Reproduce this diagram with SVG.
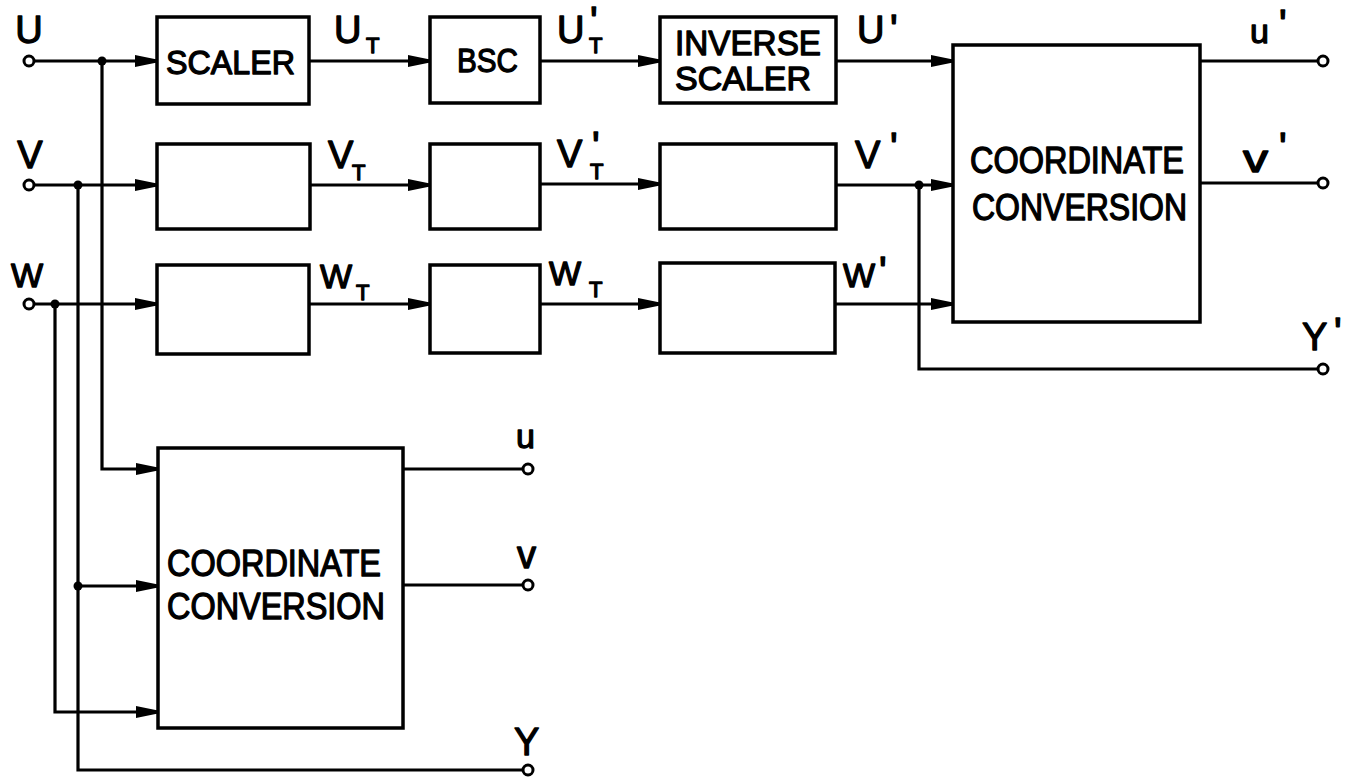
<svg xmlns="http://www.w3.org/2000/svg" width="1352" height="781" viewBox="0 0 1352 781">
<style>
text{font-family:"Liberation Sans",Arial,sans-serif;fill:#000;stroke:#000;stroke-width:1.3;stroke-linejoin:round}
.box{fill:#fff;stroke:#000;stroke-width:3.5}
.ln{fill:none;stroke:#000;stroke-width:3.2}
.arr{marker-end:url(#ah)}
.term{fill:#fff;stroke:#000;stroke-width:3}
.dot{fill:#000}
.big{font-size:38px}
.w{font-size:34px}
.sub{font-size:22px}
.pr{font-size:40px}
.bt{font-size:34px}
.cc{font-size:36px}
</style>
<defs>
<marker id="ah" markerUnits="userSpaceOnUse" markerWidth="24" markerHeight="14" refX="22" refY="7" orient="auto">
<path d="M0,1 L22,5.5 L22,8.5 L0,13 Z" fill="#000"/>
</marker>
</defs>
<rect width="1352" height="781" fill="#fff"/>

<g id="connectors">
<path class="ln arr" d="M34,61 H157"/>
<path class="ln arr" d="M309,61 H430"/>
<path class="ln arr" d="M540,61 H660"/>
<path class="ln arr" d="M836,61 H953"/>
<path class="ln" d="M1200,61 H1318"/>
<path class="ln arr" d="M34,185 H157"/>
<path class="ln arr" d="M310,185 H430"/>
<path class="ln arr" d="M540,184 H660"/>
<path class="ln arr" d="M836,185 H953"/>
<path class="ln" d="M1200,183 H1318"/>
<path class="ln arr" d="M34,304 H157"/>
<path class="ln arr" d="M309,304 H430"/>
<path class="ln arr" d="M540,304 H660"/>
<path class="ln arr" d="M835,304 H953"/>
<path class="ln arr" d="M102,61 V469 H158"/>
<path class="ln" d="M78,185 V770 H523"/>
<path class="ln arr" d="M78,586 H158"/>
<path class="ln arr" d="M55,304 V712 H158"/>
<path class="ln" d="M919,185 V369 H1318"/>
<path class="ln" d="M403,469 H523"/>
<path class="ln" d="M403,585 H523"/>
<circle class="dot" cx="102" cy="61" r="4.5"/>
<circle class="dot" cx="78" cy="185" r="4.5"/>
<circle class="dot" cx="55" cy="304" r="4.5"/>
<circle class="dot" cx="78" cy="586" r="4.5"/>
<circle class="dot" cx="919" cy="185" r="4.5"/>
<text class="big" x="334" y="43">U<tspan class="sub" x="366" y="53">T</tspan></text>
<text class="big" x="328" y="168">V<tspan class="sub" x="352" y="180">T</tspan></text>
<text class="w" x="320" y="288">W<tspan class="sub" x="356" y="300">T</tspan></text>
<text class="big" x="557" y="43">U<tspan class="sub" x="589" y="53">T</tspan><tspan class="pr" x="590" y="35">'</tspan></text>
<text class="big" x="557" y="167">V<tspan class="sub" x="590" y="179">T</tspan><tspan class="pr" x="592" y="160">'</tspan></text>
<text class="w" x="549" y="285">W<tspan class="sub" x="589" y="297">T</tspan></text>
<text class="big" x="857" y="43">U<tspan class="pr" x="890" y="43">'</tspan></text>
<text class="big" x="855" y="168">V<tspan class="pr" x="890" y="161">'</tspan></text>
<text class="w" x="843" y="287">W<tspan class="pr" x="879" y="285">'</tspan></text>
</g>

<g id="in-U"><text class="big" x="29" y="43" text-anchor="middle">U</text><circle class="term" cx="29" cy="61" r="5"/></g>
<g id="in-V"><text class="big" x="30" y="168" text-anchor="middle">V</text><circle class="term" cx="29" cy="185" r="5"/></g>
<g id="in-W"><text class="w" x="27" y="287" text-anchor="middle">W</text><circle class="term" cx="29" cy="304" r="5"/></g>

<g id="scaler-u"><rect class="box" x="157" y="17" width="152" height="87"/><text class="bt" x="166" y="74" textLength="129" lengthAdjust="spacingAndGlyphs">SCALER</text></g>
<g id="scaler-v"><rect class="box" x="157" y="144" width="153" height="85"/></g>
<g id="scaler-w"><rect class="box" x="157" y="265" width="152" height="89"/></g>

<g id="bsc-u"><rect class="box" x="430" y="17" width="110" height="86"/><text class="bt" x="457" y="72" font-size="32" textLength="61" lengthAdjust="spacingAndGlyphs">BSC</text></g>
<g id="bsc-v"><rect class="box" x="430" y="144" width="110" height="85"/></g>
<g id="bsc-w"><rect class="box" x="430" y="265" width="110" height="88"/></g>

<g id="inv-u"><rect class="box" x="660" y="17" width="176" height="86"/><text x="675" y="55" font-size="35" textLength="146" lengthAdjust="spacingAndGlyphs">INVERSE</text><text x="675" y="90" font-size="33" textLength="136" lengthAdjust="spacingAndGlyphs">SCALER</text></g>
<g id="inv-v"><rect class="box" x="660" y="144" width="176" height="85"/></g>
<g id="inv-w"><rect class="box" x="660" y="263" width="175" height="90"/></g>

<g id="cc-out"><rect class="box" x="953" y="45" width="247" height="277"/><text class="cc" x="970" y="173" textLength="214" lengthAdjust="spacingAndGlyphs">COORDINATE</text><text class="cc" x="972" y="220" textLength="215" lengthAdjust="spacingAndGlyphs">CONVERSION</text></g>
<g id="cc-in"><rect class="box" x="158" y="448" width="245" height="280"/><text class="cc" x="167" y="576" textLength="214" lengthAdjust="spacingAndGlyphs">COORDINATE</text><text class="cc" x="167" y="619" textLength="218" lengthAdjust="spacingAndGlyphs">CONVERSION</text></g>

<g id="out-u1"><text class="w" x="1250" y="43">u<tspan class="pr" x="1279" y="38">'</tspan></text><circle class="term" cx="1323" cy="61" r="5"/></g>
<g id="out-v1"><text class="big" x="1243" y="172" textLength="25" lengthAdjust="spacingAndGlyphs">v</text><text class="pr" x="1279" y="161">'</text><circle class="term" cx="1323" cy="183" r="5"/></g>
<g id="out-Y1"><text class="big" x="1302" y="350">Y<tspan class="pr" x="1334" y="346">'</tspan></text><circle class="term" cx="1323" cy="369" r="5"/></g>

<g id="out-u"><text class="w" x="516" y="448">u</text><circle class="term" cx="528" cy="469" r="5"/></g>
<g id="out-v"><text class="big" x="517" y="568">v</text><circle class="term" cx="528" cy="585" r="5"/></g>
<g id="out-Y"><text class="big" x="514" y="755">Y</text><circle class="term" cx="528" cy="770" r="5"/></g>
</svg>
